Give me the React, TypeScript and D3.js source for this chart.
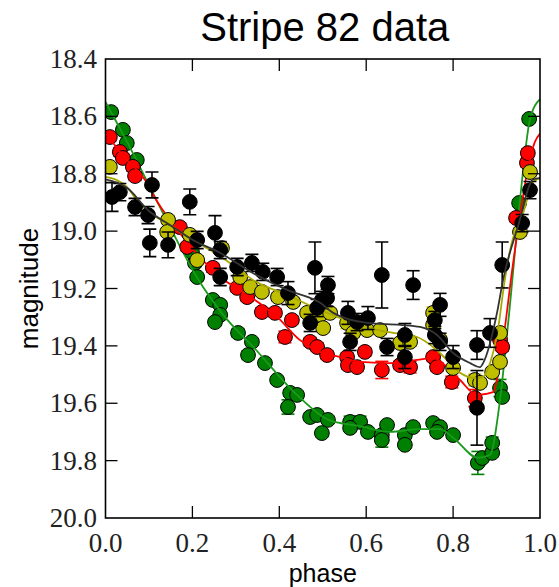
import React from "react";
import * as d3 from "d3";

// ---- data: [phase, magnitude, error] ----
const greenPoints: [number, number, number][] = [
  [0.013, 18.585, 0.012], [0.04, 18.647, 0.012], [0.049, 18.693, 0.012], [0.072, 18.752, 0.012],
  [0.199, 19.073, 0.012], [0.206, 19.111, 0.012], [0.211, 19.16, 0.012], [0.247, 19.24, 0.012],
  [0.264, 19.257, 0.012], [0.264, 19.292, 0.012], [0.252, 19.317, 0.012], [0.305, 19.355, 0.015],
  [0.337, 19.386, 0.012], [0.328, 19.432, 0.015], [0.367, 19.46, 0.012], [0.395, 19.519, 0.012],
  [0.425, 19.564, 0.012], [0.441, 19.571, 0.012], [0.42, 19.613, 0.025], [0.471, 19.648, 0.012],
  [0.487, 19.641, 0.012], [0.512, 19.658, 0.012], [0.498, 19.704, 0.012], [0.563, 19.665, 0.02],
  [0.586, 19.665, 0.02], [0.563, 19.686, 0.012], [0.604, 19.7, 0.012], [0.636, 19.711, 0.012],
  [0.648, 19.676, 0.012], [0.636, 19.728, 0.025], [0.689, 19.711, 0.012], [0.689, 19.745, 0.012],
  [0.708, 19.683, 0.012], [0.754, 19.669, 0.012], [0.77, 19.683, 0.012], [0.763, 19.7, 0.012],
  [0.8, 19.711, 0.012], [0.857, 19.808, 0.04], [0.867, 19.791, 0.012], [0.89, 19.773, 0.012],
  [0.89, 19.738, 0.02], [0.908, 19.547, 0.03], [0.913, 19.578, 0.012], [0.952, 18.902, 0.012],
  [0.975, 18.609, 0.012],
];
const redPoints: [number, number, number][] = [
  [0.01, 18.672, 0.015], [0.033, 18.724, 0.015], [0.04, 18.745, 0.015], [0.063, 18.776, 0.015],
  [0.068, 18.808, 0.015], [0.171, 18.986, 0.015], [0.188, 19.055, 0.015], [0.247, 19.128, 0.015],
  [0.303, 19.198, 0.015], [0.326, 19.23, 0.015], [0.36, 19.282, 0.015], [0.39, 19.285, 0.015],
  [0.429, 19.31, 0.015], [0.413, 19.369, 0.02], [0.471, 19.386, 0.015], [0.487, 19.404, 0.015],
  [0.51, 19.432, 0.015], [0.556, 19.439, 0.015], [0.558, 19.467, 0.015], [0.579, 19.474, 0.015],
  [0.597, 19.421, 0.015], [0.636, 19.484, 0.03], [0.678, 19.467, 0.015], [0.701, 19.474, 0.02],
  [0.754, 19.439, 0.015], [0.763, 19.474, 0.015], [0.797, 19.526, 0.02], [0.85, 19.582, 0.03],
  [0.908, 19.379, 0.015], [0.913, 19.404, 0.015], [0.945, 18.954, 0.015], [0.97, 18.762, 0.015],
  [0.972, 18.728, 0.015],
];
const yellowPoints: [number, number, number][] = [
  [0.01, 18.776, 0.015], [0.144, 18.961, 0.015], [0.142, 19.003, 0.015], [0.194, 19.013, 0.015],
  [0.211, 19.101, 0.015], [0.268, 19.059, 0.015], [0.31, 19.16, 0.015], [0.333, 19.195, 0.015],
  [0.36, 19.212, 0.015], [0.397, 19.23, 0.015], [0.432, 19.247, 0.015], [0.464, 19.285, 0.015],
  [0.494, 19.292, 0.015], [0.501, 19.338, 0.015], [0.517, 19.285, 0.015], [0.556, 19.32, 0.02],
  [0.57, 19.355, 0.015], [0.602, 19.345, 0.015], [0.632, 19.345, 0.015], [0.678, 19.39, 0.015],
  [0.701, 19.386, 0.015], [0.754, 19.285, 0.02], [0.754, 19.327, 0.015], [0.77, 19.379, 0.015],
  [0.8, 19.477, 0.015], [0.85, 19.519, 0.02], [0.862, 19.529, 0.015], [0.89, 19.491, 0.015],
  [0.908, 19.456, 0.015], [0.908, 19.355, 0.015], [0.954, 19.003, 0.015], [0.977, 18.794, 0.015],
];
const blackPoints: [number, number, number][] = [
  [0.015, 18.881, 0.05], [0.033, 18.864, 0.03], [0.068, 18.916, 0.03], [0.098, 18.944, 0.03],
  [0.107, 18.839, 0.045], [0.102, 19.041, 0.048], [0.144, 19.048, 0.045], [0.194, 18.898, 0.045],
  [0.211, 19.031, 0.03], [0.252, 19.006, 0.06], [0.264, 19.066, 0.03], [0.264, 19.16, 0.03],
  [0.303, 19.125, 0.03], [0.337, 19.111, 0.03], [0.362, 19.142, 0.03], [0.395, 19.16, 0.03],
  [0.42, 19.216, 0.04], [0.482, 19.128, 0.09], [0.512, 19.188, 0.03], [0.51, 19.233, 0.03],
  [0.498, 19.24, 0.03], [0.487, 19.268, 0.03], [0.471, 19.32, 0.03], [0.558, 19.285, 0.04],
  [0.579, 19.317, 0.03], [0.604, 19.303, 0.04], [0.563, 19.386, 0.03], [0.636, 19.153, 0.115],
  [0.708, 19.188, 0.05], [0.648, 19.404, 0.03], [0.689, 19.362, 0.04], [0.689, 19.439, 0.04],
  [0.77, 19.257, 0.04], [0.758, 19.31, 0.03], [0.758, 19.362, 0.03], [0.77, 19.386, 0.03],
  [0.8, 19.439, 0.04], [0.855, 19.397, 0.05], [0.885, 19.355, 0.05], [0.855, 19.616, 0.13],
  [0.913, 19.118, 0.08], [0.959, 18.972, 0.03], [0.977, 18.857, 0.03],
];

// ---- fitted curves: [phase, magnitude] ----
const greenFit: [number, number][] = [
  [0.0, 18.55], [0.05, 18.69], [0.1, 18.84], [0.15, 18.99], [0.21, 19.16], [0.27, 19.29],
  [0.344, 19.41], [0.44, 19.57], [0.516, 19.66], [0.586, 19.68], [0.655, 19.7], [0.724, 19.69],
  [0.77, 19.69], [0.8, 19.72], [0.857, 19.79], [0.885, 19.78], [0.907, 19.6], [0.93, 19.27],
  [0.954, 18.89], [0.977, 18.61], [1.0, 18.54],
];
const redFit: [number, number][] = [
  [0.0, 18.654], [0.033, 18.724], [0.091, 18.822], [0.121, 18.902], [0.148, 18.961],
  [0.178, 19.02], [0.217, 19.09], [0.263, 19.16], [0.309, 19.205], [0.395, 19.299],
  [0.447, 19.379], [0.494, 19.421], [0.54, 19.439], [0.586, 19.456], [0.648, 19.46],
  [0.717, 19.449], [0.754, 19.442], [0.786, 19.474], [0.816, 19.519], [0.855, 19.571],
  [0.892, 19.561], [0.913, 19.404], [0.936, 19.135], [0.954, 18.944], [0.973, 18.775],
  [0.988, 18.69], [1.0, 18.66],
];
const yellowFit: [number, number][] = [
  [0.0, 18.811], [0.026, 18.822], [0.049, 18.846], [0.072, 18.891], [0.102, 18.937],
  [0.142, 18.972], [0.188, 19.02], [0.241, 19.066], [0.293, 19.118], [0.339, 19.17],
  [0.418, 19.223], [0.494, 19.275], [0.57, 19.32], [0.609, 19.338], [0.662, 19.355],
  [0.717, 19.369], [0.754, 19.404], [0.786, 19.449], [0.816, 19.494], [0.85, 19.512],
  [0.869, 19.508], [0.885, 19.46], [0.903, 19.345], [0.919, 19.17], [0.938, 19.024],
  [0.954, 18.972], [0.97, 18.891], [0.981, 18.832], [1.0, 18.815],
];
const blackFit: [number, number][] = [
  [0.0, 18.82], [0.05, 18.85], [0.1, 18.93], [0.15, 18.98], [0.2, 19.03], [0.264, 19.076],
  [0.339, 19.146], [0.418, 19.205], [0.494, 19.25], [0.524, 19.285], [0.602, 19.32],
  [0.678, 19.327], [0.724, 19.334], [0.763, 19.362], [0.8, 19.425], [0.839, 19.46],
  [0.862, 19.474], [0.869, 19.46], [0.901, 19.285], [0.915, 19.17], [0.95, 18.98],
  [0.984, 18.82], [1.0, 18.815],
];

const xTicks = [0, 0.2, 0.4, 0.6, 0.8, 1.0];
const yTicks = [18.4, 18.6, 18.8, 19.0, 19.2, 19.4, 19.6, 19.8, 20.0];

const series = [
  { name: "green", points: greenPoints, fit: greenFit, color: "#008000", line: "#1a9a1a" },
  { name: "red", points: redPoints, fit: redFit, color: "#ff0000", line: "#ff0000" },
  { name: "yellow", points: yellowPoints, fit: yellowFit, color: "#bfbf00", line: "#a8a800" },
  { name: "black", points: blackPoints, fit: blackFit, color: "#000000", line: "#333333" },
];

export default function App() {
  const W = 559, H = 587;
  const left = 105.5, right = 540, top = 59, bottom = 518;
  const x = d3.scaleLinear().domain([0, 1]).range([left, right]);
  const y = d3.scaleLinear().domain([18.4, 20.0]).range([top, bottom]);
  const line = d3.line<[number, number]>()
    .x((d) => x(d[0]))
    .y((d) => y(d[1]))
    .curve(d3.curveMonotoneX);
  const tickLen = 12;
  const r = 7.4;
  const cap = 6.5;

  return (
    <svg width={W} height={H} style={{ position: "absolute", left: 0, top: 0, background: "#fff" }}>
      <defs>
        <clipPath id="plotclip">
          <rect x={left} y={top} width={right - left} height={bottom - top} />
        </clipPath>
      </defs>
      <rect x={0} y={0} width={W} height={H} fill="#fff" />
      <g clipPath="url(#plotclip)">
        {series.map((s) => (
          <g key={s.name}>
            {s.points.map((p, i) => (
              <g key={"e" + i} stroke={s.color} strokeWidth={1.6}>
                <line x1={x(p[0])} x2={x(p[0])} y1={y(p[1] - p[2])} y2={y(p[1] + p[2])} />
                <line x1={x(p[0]) - cap} x2={x(p[0]) + cap} y1={y(p[1] - p[2])} y2={y(p[1] - p[2])} />
                <line x1={x(p[0]) - cap} x2={x(p[0]) + cap} y1={y(p[1] + p[2])} y2={y(p[1] + p[2])} />
              </g>
            ))}
            {s.points.map((p, i) => (
              <circle key={"c" + i} cx={x(p[0])} cy={y(p[1])} r={r} fill={s.color} stroke="#000" strokeWidth={1} />
            ))}
            <path d={line(s.fit) || ""} fill="none" stroke={s.line} strokeWidth={1.8} />
          </g>
        ))}
      </g>
      {/* frame */}
      <rect x={left} y={top} width={right - left} height={bottom - top} fill="none" stroke="#000" strokeWidth={1.6} />
      {/* ticks */}
      {xTicks.slice(1, -1).map((t) => (
        <g key={"xt" + t} stroke="#000" strokeWidth={1.3}>
          <line x1={x(t)} x2={x(t)} y1={bottom} y2={bottom - tickLen} />
          <line x1={x(t)} x2={x(t)} y1={top} y2={top + tickLen} />
        </g>
      ))}
      {yTicks.slice(1, -1).map((t) => (
        <g key={"yt" + t} stroke="#000" strokeWidth={1.3}>
          <line x1={left} x2={left + tickLen} y1={y(t)} y2={y(t)} />
          <line x1={right} x2={right - tickLen} y1={y(t)} y2={y(t)} />
        </g>
      ))}
      {/* tick labels */}
      <g fontFamily="'Liberation Serif', 'Times New Roman', serif" fontSize={27} fill="#222">
        {xTicks.map((t) => (
          <text key={"xl" + t} x={x(t)} y={552} textAnchor="middle">{t.toFixed(1)}</text>
        ))}
        {yTicks.map((t) => (
          <text key={"yl" + t} x={97} y={y(t) + 9} textAnchor="end">{t.toFixed(1)}</text>
        ))}
      </g>
      {/* title and axis labels */}
      <text x={(left + right) / 2 + 2} y={41} textAnchor="middle" fontFamily="'Liberation Sans', Arial, sans-serif" fontSize={40} fill="#000">Stripe 82 data</text>
      <text x={(left + right) / 2} y={582} textAnchor="middle" fontFamily="'Liberation Sans', Arial, sans-serif" fontSize={25} fill="#000">phase</text>
      <text transform={`translate(38, ${(top + bottom) / 2}) rotate(-90)`} textAnchor="middle" fontFamily="'Liberation Sans', Arial, sans-serif" fontSize={26} fill="#000">magnitude</text>
    </svg>
  );
}
